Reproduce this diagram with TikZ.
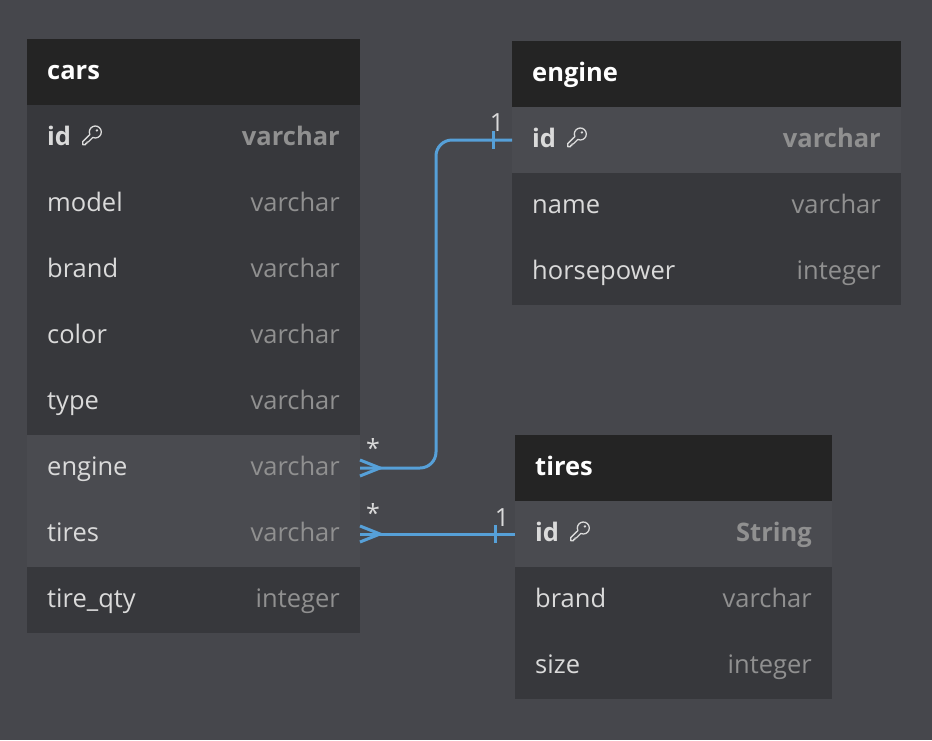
\documentclass[tikz,border=0pt]{standalone}
\usepackage{fontspec}
\setmainfont{Open Sans}
\usepackage{tikz}
\usetikzlibrary{positioning}

\definecolor{bgc}{HTML}{46474C}
\definecolor{headc}{HTML}{242424}
\definecolor{rowc}{HTML}{37383C}
\definecolor{rowhic}{HTML}{4A4B50}
\definecolor{namec}{HTML}{DADADA}
\definecolor{typec}{HTML}{909090}
\definecolor{linkc}{HTML}{56A0D8}

\tikzset{
	tblhead/.style={fill=headc, minimum height=66pt, inner sep=0pt, outer sep=0pt, anchor=north west},
	tblrow/.style={fill=rowc, minimum height=66pt, inner sep=0pt, outer sep=0pt},
	tblrowhi/.style={fill=rowhic, minimum height=66pt, inner sep=0pt, outer sep=0pt},
	tbltitle/.style={text=white, font=\fontsize{25.5}{30}\selectfont\bfseries, anchor=base west, inner sep=0pt},
	fieldname/.style={text=namec, font=\fontsize{25.5}{30}\selectfont, anchor=base west, inner sep=0pt},
	fieldtype/.style={text=typec, font=\fontsize{25.5}{30}\selectfont, anchor=base east, inner sep=0pt},
	pkname/.style={fieldname, font=\fontsize{25.5}{30}\selectfont\bfseries},
	pktype/.style={fieldtype, font=\fontsize{25.5}{30}\selectfont\bfseries},
	cardlabel/.style={text=namec, font=\fontsize{25}{30}\selectfont, inner sep=0pt},
	ref/.style={draw=linkc, line width=3pt},
	pkey/.pic={
		\draw[namec, line width=1.3pt, line join=round]
			(-1.44pt,1.46pt) arc[start angle=205, end angle=-115, radius=6pt]
			-- (-3pt,-5.9pt) -- (-4.3pt,-5.9pt) -- (-4.3pt,-7.2pt) -- (-5.6pt,-7.2pt)
			-- (-5.6pt,-8.6pt) -- (-8.6pt,-8.6pt) -- (-8.6pt,-5.6pt) -- cycle;
		\fill[namec] (5.6pt,5.6pt) circle (1.3pt);
	},
}

\begin{document}
\begin{tikzpicture}[x=1pt, y=-1pt]
	\fill[bgc] (0,0) rectangle (932,740);

	% cars
	\node[tblhead, minimum width=333pt] (cars) at (27,39) {};
	\node[tbltitle] (cars-title) at ([xshift=20pt,yshift=-7pt]cars.west) {cars};
	\node[tblrow, minimum width=333pt, below=0pt of cars] (cars-id) {};
	\node[pkname] (cars-id-f) at ([xshift=20pt,yshift=-7pt]cars-id.west) {id};
	\node[pktype] (cars-id-t) at ([xshift=-20pt,yshift=-7pt]cars-id.east) {varchar};
	\pic at ([xshift=20pt,yshift=9pt]cars-id-f.base east) {pkey};
	\foreach \n/\f/\t/\s [remember=\n as \last (initially id)] in
		{model/model/varchar/tblrow, brand/brand/varchar/tblrow,
		 color/color/varchar/tblrow, type/type/varchar/tblrow,
		 engine/engine/varchar/tblrowhi, tires/tires/varchar/tblrowhi,
		 qty/tire\_qty/integer/tblrow}
	{
		\node[\s, minimum width=333pt, below=0pt of cars-\last] (cars-\n) {};
		\node[fieldname] (cars-\n-f) at ([xshift=20pt,yshift=-7pt]cars-\n.west) {\f};
		\node[fieldtype] (cars-\n-t) at ([xshift=-20pt,yshift=-7pt]cars-\n.east) {\t};
	}

	% engine
	\node[tblhead, minimum width=389pt] (engine) at (512,41) {};
	\node[tbltitle] (engine-title) at ([xshift=20pt,yshift=-7pt]engine.west) {engine};
	\node[tblrowhi, minimum width=389pt, below=0pt of engine] (engine-id) {};
	\node[pkname] (engine-id-f) at ([xshift=20pt,yshift=-7pt]engine-id.west) {id};
	\node[pktype] (engine-id-t) at ([xshift=-20pt,yshift=-7pt]engine-id.east) {varchar};
	\pic at ([xshift=20pt,yshift=9pt]engine-id-f.base east) {pkey};
	\foreach \n/\t [remember=\n as \last (initially id)] in
		{name/varchar, horsepower/integer}
	{
		\node[tblrow, minimum width=389pt, below=0pt of engine-\last] (engine-\n) {};
		\node[fieldname] (engine-\n-f) at ([xshift=20pt,yshift=-7pt]engine-\n.west) {\n};
		\node[fieldtype] (engine-\n-t) at ([xshift=-20pt,yshift=-7pt]engine-\n.east) {\t};
	}

	% tires
	\node[tblhead, minimum width=317pt] (tires) at (515,435) {};
	\node[tbltitle] (tires-title) at ([xshift=20pt,yshift=-7pt]tires.west) {tires};
	\node[tblrowhi, minimum width=317pt, below=0pt of tires] (tires-id) {};
	\node[pkname] (tires-id-f) at ([xshift=20pt,yshift=-7pt]tires-id.west) {id};
	\node[pktype] (tires-id-t) at ([xshift=-20pt,yshift=-7pt]tires-id.east) {String};
	\pic at ([xshift=20pt,yshift=9pt]tires-id-f.base east) {pkey};
	\foreach \n/\t [remember=\n as \last (initially id)] in
		{brand/varchar, size/integer}
	{
		\node[tblrow, minimum width=317pt, below=0pt of tires-\last] (tires-\n) {};
		\node[fieldname] (tires-\n-f) at ([xshift=20pt,yshift=-7pt]tires-\n.west) {\n};
		\node[fieldtype] (tires-\n-t) at ([xshift=-20pt,yshift=-7pt]tires-\n.east) {\t};
	}

	% cars.engine -> engine.id
	\draw[ref, rounded corners=16pt] (cars-engine.east) -- ++(76,0) |- (engine-id.west);
	\draw[ref] ([yshift=8pt]cars-engine.east) -- ++(20pt,-8pt) -- ++(-20pt,-8pt);
	\draw[ref] ([xshift=-19pt,yshift=9pt]engine-id.west) -- ++(0pt,-18pt);
	\node[cardlabel] (engine-many) at ([xshift=13pt,yshift=20pt]cars-engine.east) {*};
	\node[cardlabel] (engine-one) at ([xshift=-15pt,yshift=17pt]engine-id.west) {1};

	% cars.tires -> tires.id
	\draw[ref] (cars-tires.east) -- (tires-id.west);
	\draw[ref] ([yshift=8pt]cars-tires.east) -- ++(20pt,-8pt) -- ++(-20pt,-8pt);
	\draw[ref] ([xshift=-20pt,yshift=9pt]tires-id.west) -- ++(0pt,-18pt);
	\node[cardlabel] (tires-many) at ([xshift=13pt,yshift=21pt]cars-tires.east) {*};
	\node[cardlabel] (tires-one) at ([xshift=-13pt,yshift=16pt]tires-id.west) {1};
\end{tikzpicture}
\end{document}
